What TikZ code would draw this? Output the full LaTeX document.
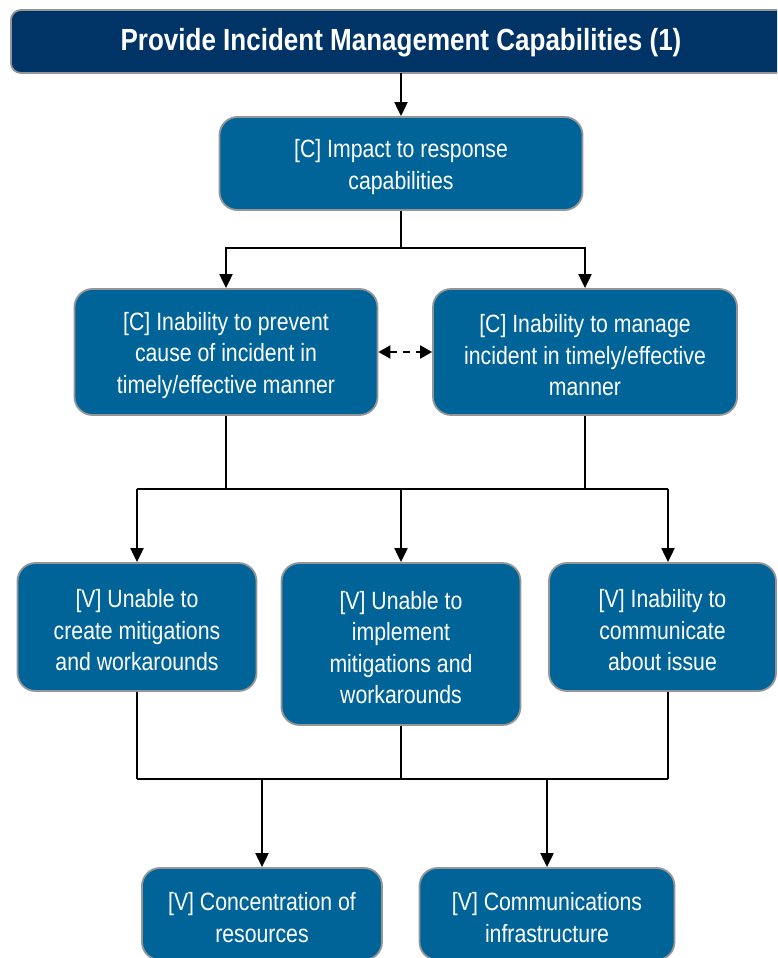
\documentclass[tikz,border=0pt]{standalone}
\usepackage{fontspec}
\setmainfont{Liberation Sans}[FakeStretch=0.85]
\usetikzlibrary{arrows.meta}
\definecolor{navy}{RGB}{0,51,102}
\definecolor{boxblue}{RGB}{0,100,153}
\definecolor{edgegray}{RGB}{150,150,150}
\newcommand{\firstline}{\rule{0pt}{25pt}}
\begin{document}
\begin{tikzpicture}[x=1pt,y=-1pt,
  box/.style={draw=edgegray, line width=1.8pt, fill=boxblue, rounded corners=18pt,
    text=white, align=center, inner sep=0pt,
    font=\fontsize{25}{31.5}\selectfont},
  conn/.style={line width=2pt, black},
  arr/.style={conn, -{Triangle[width=13pt,length=14pt]}},
  darr/.style={conn, {Triangle[width=13pt,length=12pt]}-{Triangle[width=13pt,length=12pt]}, dash pattern=on 7pt off 6pt}]
\useasboundingbox (0,0) rectangle (777,958);
\clip (0,0) rectangle (777,958);
% title
\node[draw=edgegray, line width=1.8pt, fill=navy, rounded corners=10pt, minimum width=790pt, minimum height=63pt,
  inner sep=0pt, anchor=west] (title) at (10,41.5) {};
\node[text=white, font=\bfseries\fontsize{30.6}{36}\selectfont] (titletext) at (401,43) {Provide Incident Management Capabilities (1)};
\coordinate (tbot) at (401,73);
% boxes
\node[box, minimum width=363pt, minimum height=93pt] (C1) at (401,163.5) {\firstline[C] Impact to response\\capabilities};
\node[box, minimum width=303pt, minimum height=126pt] (C2) at (226,352) {\firstline[C] Inability to prevent\\cause of incident in\\timely/effective manner};
\node[box, minimum width=304pt, minimum height=126pt] (C3) at (585,352) {\firstline[C] Inability to manage\\incident in timely/effective\\manner};
\node[box, minimum width=239pt, minimum height=128pt] (V1) at (137,627) {\firstline[V] Unable to\\create mitigations\\and workarounds};
\node[box, minimum width=239pt, minimum height=162pt] (V2) at (401,644) {\firstline[V] Unable to\\implement\\mitigations and\\workarounds};
\node[box, minimum width=227pt, minimum height=128pt] (V3) at (662.5,627) {\firstline[V] Inability to\\communicate\\about issue};
\node[box, minimum width=240pt, minimum height=92pt] (B1) at (262,914) {\firstline[V] Concentration of\\resources};
\node[box, minimum width=255pt, minimum height=92pt] (B2) at (547,914) {\firstline[V] Communications\\infrastructure};
% connectors
\draw[arr] (tbot) -- (C1.north);
\coordinate (j1) at (401,248);
\draw[conn] (C1.south) -- (j1);
\draw[arr] (j1) -| (C2.north);
\draw[arr] (j1) -| (C3.north);
\draw[darr] (C2.east) -- (C3.west);
\coordinate (j2l) at (137,489);
\coordinate (j2m) at (401,489);
\coordinate (j2r) at (668,489);
\draw[conn] (C2.south) -- (C2.south |- j2l);
\draw[conn] (C3.south) -- (C3.south |- j2l);
\draw[conn] (j2l) -- (j2r);
\draw[arr] (j2l) -- (V1.north);
\draw[arr] (j2m) -- (V2.north);
\draw[arr] (j2r) -- (j2r |- V3.north);
\coordinate (j3l) at (137,779);
\coordinate (j3r) at (668,779);
\draw[conn] (V1.south) -- (j3l);
\draw[conn] (V2.south) -- (V2.south |- j3l);
\draw[conn] (V3.south -| j3r) -- (j3r);
\draw[conn] (j3l) -- (j3r);
\draw[arr] (B1.north |- j3l) -- (B1.north);
\draw[arr] (B2.north |- j3l) -- (B2.north);
\end{tikzpicture}
\end{document}
